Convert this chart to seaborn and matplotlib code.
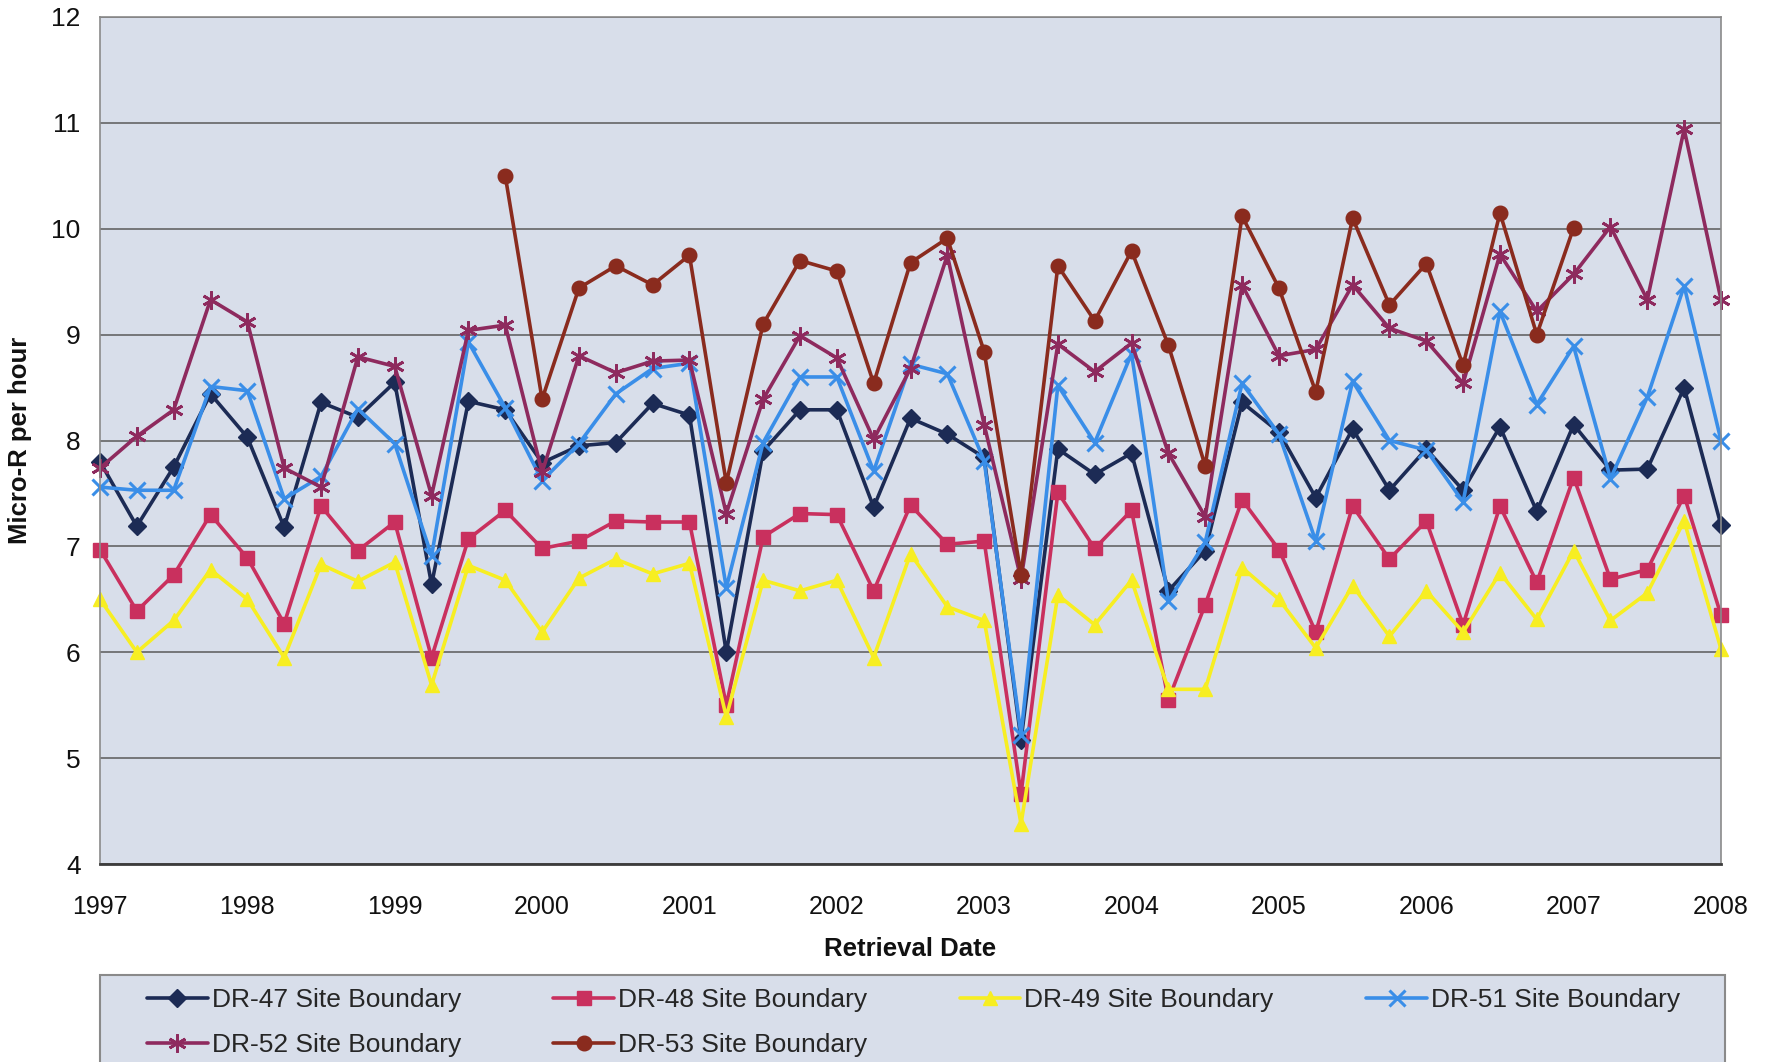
import numpy as np
import pandas as pd
import matplotlib
matplotlib.use("Agg")
import matplotlib.pyplot as plt
from matplotlib.patches import Rectangle
import seaborn as sns

# ---- data (quarterly retrievals, 1997.00 .. 2008.00) ----
dates = [1997 + 0.25 * i for i in range(45)]

dr47 = [7.80, 7.19, 7.75, 8.44, 8.03, 7.18, 8.36, 8.22, 8.55, 6.64, 8.37, 8.29, 7.79, 7.95, 7.98, 8.35,
        8.24, 6.00, 7.90, 8.29, 8.29, 7.37, 8.21, 8.06, 7.84, 5.17, 7.92, 7.68, 7.88, 6.58, 6.96, 8.36,
        8.08, 7.46, 8.11, 7.53, 7.92, 7.53, 8.13, 7.33, 8.15, 7.72, 7.73, 8.50, 7.20]
dr48 = [6.97, 6.39, 6.73, 7.30, 6.89, 6.27, 7.38, 6.96, 7.23, 5.95, 7.07, 7.34, 6.98, 7.05, 7.24, 7.23,
        7.23, 5.50, 7.09, 7.31, 7.30, 6.58, 7.39, 7.02, 7.05, 4.66, 7.51, 6.98, 7.34, 5.55, 6.45, 7.44,
        6.97, 6.19, 7.38, 6.88, 7.24, 6.26, 7.38, 6.66, 7.65, 6.69, 6.78, 7.48, 6.35]
dr49 = [6.50, 6.00, 6.30, 6.78, 6.50, 5.95, 6.83, 6.67, 6.85, 5.69, 6.82, 6.68, 6.19, 6.70, 6.88, 6.74,
        6.84, 5.39, 6.68, 6.58, 6.68, 5.95, 6.93, 6.43, 6.30, 4.38, 6.54, 6.26, 6.68, 5.65, 5.65, 6.80,
        6.50, 6.04, 6.63, 6.15, 6.58, 6.19, 6.75, 6.31, 6.96, 6.30, 6.56, 7.24, 6.03]
dr51 = [7.56, 7.53, 7.53, 8.51, 8.47, 7.45, 7.66, 8.30, 7.97, 6.91, 8.93, 8.31, 7.62, 7.97, 8.44, 8.68,
        8.73, 6.61, 7.98, 8.60, 8.60, 7.71, 8.72, 8.63, 7.81, 5.22, 8.52, 7.98, 8.82, 6.48, 7.04, 8.54,
        8.06, 7.05, 8.56, 8.00, 7.91, 7.42, 9.22, 8.34, 8.89, 7.64, 8.41, 9.46, 8.00]
dr52 = [7.74, 8.04, 8.29, 9.33, 9.12, 7.74, 7.56, 8.79, 8.70, 7.48, 9.04, 9.09, 7.70, 8.80, 8.64, 8.75,
        8.76, 7.31, 8.39, 8.99, 8.78, 8.01, 8.68, 9.75, 8.15, 6.69, 8.91, 8.65, 8.92, 7.88, 7.28, 9.47,
        8.80, 8.86, 9.47, 9.06, 8.94, 8.54, 9.76, 9.22, 9.57, 10.02, 9.33, 10.94, 9.33]
dr53 = [None] * 11 + [10.50, 8.39, 9.44, 9.65, 9.47,
        9.75, 7.60, 9.10, 9.70, 9.60, 8.54, 9.68, 9.91, 8.84, 6.73, 9.65, 9.13, 9.79, 8.90, 7.76, 10.12,
        9.44, 8.46, 10.10, 9.28, 9.67, 8.71, 10.15, 9.00, 10.01] + [None] * 4

series_names = ["DR-47 Site Boundary", "DR-48 Site Boundary", "DR-49 Site Boundary",
                "DR-51 Site Boundary", "DR-52 Site Boundary", "DR-53 Site Boundary"]
series_vals = [dr47, dr48, dr49, dr51, dr52, dr53]
year_ticks = list(range(1997, 2009))
y_ticks = list(range(4, 13))

# ---- styling ----
colors = ["#1C2B55", "#C9305E", "#F7EE22", "#3A8EE8", "#8E2A5E", "#8A2B1E"]
markers = ["D", "s", "^", "x", (6, 2, 0), "o"]
msizes = [9.5, 10.5, 10.5, 11.5, 13, 10.5]
mews = [1, 1, 1, 2.2, 2.0, 1]
bg = "#D8DEEA"

sns.set_style("white")
plt.rcParams["font.family"] = ["Liberation Sans", "DejaVu Sans"]

fig = plt.figure(figsize=(17.74, 10.62), dpi=100)
ax = fig.add_axes([100 / 1774, 1 - 864 / 1062, (1721 - 100) / 1774, (864 - 17) / 1062])
ax.set_facecolor(bg)

handles = []
for name, vals, c, m, ms, mw in zip(series_names, series_vals, colors, markers, msizes, mews):
    df = pd.DataFrame({"date": dates, "value": vals}).dropna()
    sns.lineplot(data=df, x="date", y="value", ax=ax, color=c, marker=m, markersize=ms,
                 markeredgecolor=c, markeredgewidth=mw, linewidth=2.6, estimator=None,
                 sort=False, legend=False)
    line = ax.lines[-1]
    line.set_label(name)
    line.set_clip_on(False)
    handles.append(line)

ax.set_xlim(1997, 2008)
ax.set_ylim(4, 12)
ax.set_xticks(year_ticks)
ax.set_xticklabels([str(y) for y in year_ticks])
ax.set_yticks(y_ticks)
ax.set_yticklabels([str(y) for y in y_ticks])
ax.yaxis.grid(True, color="#5A5A5A", linewidth=1.1)
ax.xaxis.grid(False)
ax.set_axisbelow(True)

for s in ["left", "right", "top"]:
    ax.spines[s].set_color("#8A8A8A")
    ax.spines[s].set_linewidth(1.2)
ax.spines["bottom"].set_color("#3C3C3C")
ax.spines["bottom"].set_linewidth(2.0)

ax.tick_params(axis="x", direction="out", length=6, width=1, color="#888888",
               labelsize=18, pad=16, labelcolor="#111111")
ax.tick_params(axis="y", direction="out", length=0, labelsize=19, pad=14, labelcolor="#111111")

ax.set_xlabel("Retrieval Date", fontsize=18.5, fontweight="bold", labelpad=13, color="#111111")
ax.set_ylabel("Micro-R per hour", fontsize=18.5, fontweight="bold", labelpad=14, color="#111111")

# legend frame (extends beyond bottom edge as in the reference)
fig.patches.append(Rectangle((100 / 1774, -0.05), (1725 - 100) / 1774, 0.05 + (1062 - 975) / 1062,
                             transform=fig.transFigure, facecolor=bg, edgecolor="#8A8A8A",
                             linewidth=1.5, zorder=0))
# row-major display order for 4 columns x 2 rows
order = [0, 4, 1, 5, 2, 3]
leg = fig.legend(handles=[handles[i] for i in order], loc="upper left", ncol=4, mode="expand",
                 bbox_to_anchor=(147 / 1774, 1 - 999 / 1062, (1680 - 147) / 1774, 0.01),
                 frameon=False, fontsize=19, handlelength=2.3, handletextpad=0.15,
                 labelspacing=0.78, borderpad=0, borderaxespad=0, columnspacing=1.0)

fig.savefig("out.png", dpi=100, facecolor="white")
